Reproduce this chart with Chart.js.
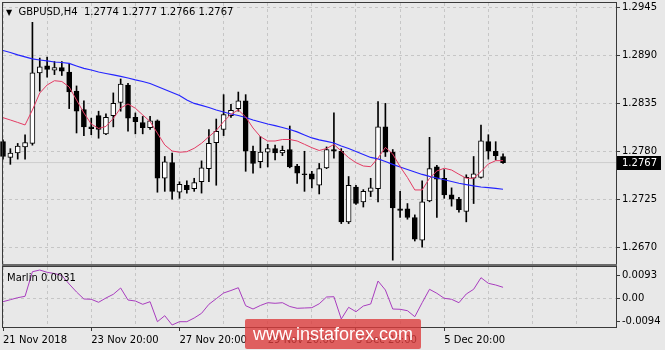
<!DOCTYPE html>
<html>
<head>
<meta charset="utf-8">
<title>GBPUSD H4</title>
<script src="https://cdn.jsdelivr.net/npm/chart.js@4.4.1/dist/chart.umd.min.js"></script>
<style>
    body { margin: 0; background: #e8e8e8; }
    #wrap { position: relative; width: 665px; height: 350px; overflow: hidden; font-family: 'DejaVu Sans', sans-serif; }
    canvas { position: absolute; left: 0; top: 0; }
    .lbl { position: absolute; font-size: 10px; color: #000; white-space: pre; line-height: 12px; }
    #title { left: 6px; top: 6px; }
    #title span { font-size: 8px; }
    #marlin { left: 7px; top: 272px; }
    #wm {
        position: absolute; left: 245px; top: 319px; width: 176px; height: 30px;
        background: rgba(220, 60, 60, 0.8); border-radius: 2px; color: #fff;
        font: 18px 'Liberation Sans', sans-serif; line-height: 30px; text-align: center;
    }
</style>
</head>
<body>
<div id="wrap">
    <canvas id="main" width="665" height="350"></canvas>
    <canvas id="sub" width="665" height="350"></canvas>
    <div id="title" class="lbl"><span>▼</span>  GBPUSD,H4  1.2774 1.2777 1.2766 1.2767</div>
    <div id="marlin" class="lbl">Marlin 0.0031</div>
    <div id="wm">www.instaforex.com</div>
</div>
<script>
// H4 bars, 21 Nov 2018 20:00 -> 7 Dec 2018 04:00
const open = [
    1.2791, 1.2773, 1.2778, 1.2785, 1.2789, 1.2870, 1.2878, 1.2873, 1.2876, 1.2871,
    1.2849, 1.2828, 1.2808, 1.2821, 1.2800, 1.2821, 1.2836, 1.2856, 1.2819, 1.2813,
    1.2807, 1.2815, 1.2749, 1.2767, 1.2733, 1.2741, 1.2737, 1.2745, 1.2760, 1.2790,
    1.2805, 1.2821, 1.2829, 1.2838, 1.2780, 1.2768, 1.2779, 1.2783, 1.2778, 1.2782,
    1.2763, 1.2754, 1.2754, 1.2741, 1.2761, 1.2782, 1.2780, 1.2699, 1.2739, 1.2722,
    1.2734, 1.2737, 1.2808, 1.2779, 1.2714, 1.2714, 1.2704, 1.2678, 1.2723, 1.2762,
    1.2749, 1.2730, 1.2725, 1.2711, 1.2749, 1.2750, 1.2791, 1.2780, 1.2774
]
const high = [
    1.2793, 1.2783, 1.2789, 1.2799, 1.2928, 1.2887, 1.2888, 1.2883, 1.2883, 1.2881,
    1.2855, 1.2838, 1.2818, 1.2826, 1.2823, 1.2847, 1.2863, 1.2858, 1.2824, 1.2820,
    1.2820, 1.2816, 1.2774, 1.2778, 1.2745, 1.2746, 1.2749, 1.2769, 1.2805, 1.2817,
    1.2845, 1.2834, 1.2848, 1.2845, 1.2786, 1.2797, 1.2788, 1.2787, 1.2786, 1.2809,
    1.2765, 1.2780, 1.2757, 1.2766, 1.2785, 1.2824, 1.2783, 1.2751, 1.2741, 1.2736,
    1.2749, 1.2837, 1.2835, 1.2782, 1.2734, 1.2720, 1.2707, 1.2746, 1.2796, 1.2764,
    1.2759, 1.2738, 1.2727, 1.2753, 1.2774, 1.2810, 1.2799, 1.2791, 1.2777
]
const low = [
    1.2771, 1.2765, 1.2771, 1.2771, 1.2787, 1.2849, 1.2865, 1.2868, 1.2867, 1.2829,
    1.2801, 1.2798, 1.2799, 1.2795, 1.2799, 1.2808, 1.2826, 1.2803, 1.2800, 1.2800,
    1.2805, 1.2733, 1.2734, 1.2725, 1.2726, 1.2732, 1.2734, 1.2732, 1.2745, 1.2741,
    1.2798, 1.2819, 1.2826, 1.2757, 1.2755, 1.2761, 1.2762, 1.2770, 1.2775, 1.2761,
    1.2743, 1.2734, 1.2738, 1.2731, 1.2760, 1.2772, 1.2697, 1.2697, 1.2719, 1.2716,
    1.2728, 1.2722, 1.2774, 1.2655, 1.2704, 1.2702, 1.2677, 1.2670, 1.2722, 1.2704,
    1.2726, 1.2717, 1.2710, 1.2699, 1.2720, 1.2749, 1.2771, 1.2770, 1.2766
]
const close = [
    1.2774, 1.2778, 1.2786, 1.2790, 1.2870, 1.2877, 1.2874, 1.2876, 1.2872, 1.2848,
    1.2826, 1.2808, 1.2806, 1.2805, 1.2819, 1.2835, 1.2857, 1.2818, 1.2814, 1.2807,
    1.2815, 1.2749, 1.2768, 1.2734, 1.2742, 1.2736, 1.2744, 1.2761, 1.2789, 1.2803,
    1.2822, 1.2827, 1.2838, 1.2780, 1.2766, 1.2779, 1.2783, 1.2778, 1.2781, 1.2762,
    1.2755, 1.2753, 1.2748, 1.2760, 1.2782, 1.2780, 1.2699, 1.2741, 1.2720, 1.2734,
    1.2738, 1.2808, 1.2779, 1.2715, 1.2712, 1.2704, 1.2679, 1.2722, 1.2760, 1.2748,
    1.2730, 1.2725, 1.2713, 1.2750, 1.2754, 1.2792, 1.2780, 1.2775, 1.2767
]
const maFast = [
    1.28186, 1.28159, 1.28131, 1.28102, 1.28274, 1.28469, 1.28561, 1.28610, 1.28601, 1.28538,
    1.28389, 1.28240, 1.28113, 1.28062, 1.28085, 1.28177, 1.28297, 1.28343, 1.28294, 1.28217,
    1.28142, 1.28007, 1.27872, 1.27803, 1.27789, 1.27795, 1.27834, 1.27892, 1.27968, 1.28039,
    1.28140, 1.28225, 1.28274, 1.28194, 1.28067, 1.27968, 1.27918, 1.27918, 1.27935, 1.27935,
    1.27918, 1.27880, 1.27841, 1.27809, 1.27832, 1.27878, 1.27803, 1.27727, 1.27669, 1.27631,
    1.27623, 1.27723, 1.27844, 1.27769, 1.27623, 1.27499, 1.27356, 1.27356, 1.27490, 1.27574,
    1.27605, 1.27585, 1.27536, 1.27490, 1.27490, 1.27566, 1.27654, 1.27692, 1.27692
]
const maSlow = [
    1.28957, 1.28934, 1.28906, 1.28883, 1.28860, 1.28848, 1.28837, 1.28825, 1.28819, 1.28808,
    1.28779, 1.28751, 1.28733, 1.28710, 1.28693, 1.28676, 1.28659, 1.28641, 1.28619, 1.28601,
    1.28578, 1.28544, 1.28509, 1.28475, 1.28441, 1.28389, 1.28349, 1.28326, 1.28303, 1.28274,
    1.28251, 1.28228, 1.28211, 1.28188, 1.28159, 1.28136, 1.28113, 1.28094, 1.28073, 1.28050,
    1.28022, 1.27987, 1.27953, 1.27930, 1.27913, 1.27895, 1.27861, 1.27832, 1.27798, 1.27763,
    1.27729, 1.27712, 1.27683, 1.27649, 1.27620, 1.27591, 1.27562, 1.27534, 1.27511, 1.27493,
    1.27473, 1.27453, 1.27433, 1.27417, 1.27402, 1.27390, 1.27382, 1.27373, 1.27364
]
const marlin = [
    -0.00126, -0.00045, 0.00037, 0.00093, 0.01093, 0.01163, 0.01069, 0.01020, 0.00939, 0.00593,
    0.00268, -0.00016, -0.00028, -0.00150, 0.00024, 0.00175, 0.00431, -0.00057, -0.00098, -0.00232,
    -0.00126, -0.00939, -0.00695, -0.01073, -0.00939, -0.00939, -0.00789, -0.00598, -0.00232, -0.00004,
    0.00228, 0.00329, 0.00443, -0.00289, -0.00423, -0.00280, -0.00167, -0.00191, -0.00167, -0.00321,
    -0.00394, -0.00382, -0.00370, -0.00211, 0.00065, 0.00077, -0.00829, -0.00354, -0.00533, -0.00301,
    -0.00220, 0.00715, 0.00350, -0.00423, -0.00435, -0.00492, -0.00736, -0.00167, 0.00378, 0.00215,
    0.00012, -0.00028, -0.00167, 0.00187, 0.00378, 0.00850, 0.00622, 0.00553, 0.00459
]
const priceTicks = [1.2945, 1.2890, 1.2835, 1.2780, 1.2725, 1.2670]
const marlinTicks = [0.0093, 0, -0.0094]
const timeBars = [0, 12, 24, 36, 48, 60]
const timeLabels = ['21 Nov 2018', '23 Nov 20:00', '27 Nov 20:00', '29 Nov 20:00', '3 Dec 20:00', '5 Dec 20:00']

const X_MAX = 83.36
const GRID = '#c6c6c6'
const FRAME = '#3a3a3a'
const last = close.length - 1
const idx = close.map((_, i) => i)
const gridBars = []
for (let b = 0; b <= X_MAX; b += 6) gridBars.push(b)

Chart.defaults.font.family = 'DejaVu Sans'
Chart.defaults.font.size = 10
Chart.defaults.color = '#000'

const frame = {
    id: 'frame',
    afterDraw: chart => {
        const { ctx, chartArea: a } = chart
        ctx.save()
        ctx.strokeStyle = FRAME
        ctx.lineWidth = 1
        ctx.strokeRect(a.left - 0.5, a.top - 0.5, a.right - a.left + 1, a.bottom - a.top + 1)
        if (chart.canvas.id == 'sub') {
            ctx.fillStyle = '#6a6a6a'
            ctx.fillRect(a.left - 1, a.top - 3, a.right - a.left + 2, 2)
        } else {
            const y = chart.scales.y.getPixelForValue(close[last])
            ctx.fillStyle = '#000'
            ctx.fillRect(a.right + 1, Math.round(y) - 7, 44, 14)
            ctx.fillStyle = '#fff'
            ctx.textBaseline = 'middle'
            ctx.font = '10px DejaVu Sans'
            ctx.fillText(close[last].toFixed(4), a.right + 6, Math.round(y))
        }
        ctx.restore()
    }
}

const xGrid = (labels) => ({
    type: 'linear',
    min: 0,
    max: X_MAX,
    offset: false,
    afterBuildTicks: axis => { axis.ticks = gridBars.map(v => ({ value: v })) },
    afterFit: axis => {
        axis.height = labels ? 23 : 0
        axis.paddingLeft = 0
        axis.paddingRight = 0
    },
    grid: {
        color: GRID,
        offset: false,
        drawTicks: labels,
        tickLength: 4,
        tickColor: c => c.tick && timeBars.includes(c.tick.value) ? FRAME : 'rgba(0,0,0,0)'
    },
    border: { display: false, dash: [3, 3] },
    ticks: {
        display: labels,
        align: 'start',
        padding: 3,
        maxRotation: 0,
        autoSkip: false,
        callback: v => {
            const k = timeBars.indexOf(v)
            return k < 0 ? '' : timeLabels[k]
        }
    }
})

new Chart(document.getElementById('main'), {
    type: 'bar',
    data: {
        datasets: [{
            type: 'line',
            data: [{ x: 0, y: close[last] }, { x: X_MAX, y: close[last] }],
            borderColor: '#cdcdcd',
            borderWidth: 1,
            pointRadius: 0,
            order: 9
        }, {
            data: idx.map(i => ({ x: i, y: [low[i], high[i]] })),
            backgroundColor: '#000',
            barThickness: 1,
            grouped: false,
            clip: false,
            order: 4
        }, {
            data: idx.map(i => ({ x: i, y: [open[i], close[i]] })),
            backgroundColor: c => close[c.dataIndex] >= open[c.dataIndex] ? '#fff' : '#000',
            borderColor: '#000',
            borderWidth: 1,
            borderSkipped: false,
            barThickness: 5,
            grouped: false,
            clip: false,
            order: 3
        }, {
            type: 'line',
            data: idx.map(i => ({ x: i, y: maFast[i] })),
            borderColor: '#e33b63',
            borderWidth: 1,
            pointRadius: 0,
            order: 1
        }, {
            type: 'line',
            data: idx.map(i => ({ x: i, y: maSlow[i] })),
            borderColor: '#2424ff',
            borderWidth: 1.2,
            pointRadius: 0,
            order: 2
        }]
    },
    options: {
        responsive: false,
        animation: false,
        devicePixelRatio: 1,
        layout: { padding: { left: 3, top: 3, right: 0, bottom: 86 } },
        plugins: { legend: { display: false }, tooltip: { enabled: false } },
        scales: {
            x: xGrid(false),
            y: {
                position: 'right',
                min: 1.26506,
                max: 1.29502,
                afterBuildTicks: axis => { axis.ticks = priceTicks.map(v => ({ value: v })) },
                afterFit: axis => {
                    axis.width = 49
                    axis.paddingTop = 0
                    axis.paddingBottom = 0
                },
                grid: { color: GRID, tickColor: FRAME, tickLength: 4 },
                border: { display: false, dash: [3, 3] },
                ticks: { padding: 2, autoSkip: false, callback: v => v.toFixed(4) }
            }
        }
    },
    plugins: [frame]
})

new Chart(document.getElementById('sub'), {
    type: 'line',
    data: {
        datasets: [{
            data: idx.map(i => ({ x: i, y: marlin[i] })),
            borderColor: '#a83cbe',
            borderWidth: 1,
            pointRadius: 0
        }]
    },
    options: {
        responsive: false,
        animation: false,
        devicePixelRatio: 1,
        layout: { padding: { left: 3, top: 267, right: 0, bottom: 0 } },
        plugins: { legend: { display: false }, tooltip: { enabled: false } },
        scales: {
            x: xGrid(true),
            y: {
                position: 'right',
                min: -0.01155,
                max: 0.01285,
                afterBuildTicks: axis => { axis.ticks = marlinTicks.map(v => ({ value: v })) },
                afterFit: axis => {
                    axis.width = 49
                    axis.paddingTop = 0
                    axis.paddingBottom = 0
                },
                grid: {
                    color: c => c.tick && c.tick.value == 0 ? GRID : 'rgba(0,0,0,0)',
                    tickColor: FRAME,
                    tickLength: 4
                },
                border: { display: false, dash: [3, 3] },
                ticks: { padding: 2, autoSkip: false, callback: v => v == 0 ? '0.00' : v.toFixed(4) }
            }
        }
    },
    plugins: [frame]
})
</script>
</body>
</html>
